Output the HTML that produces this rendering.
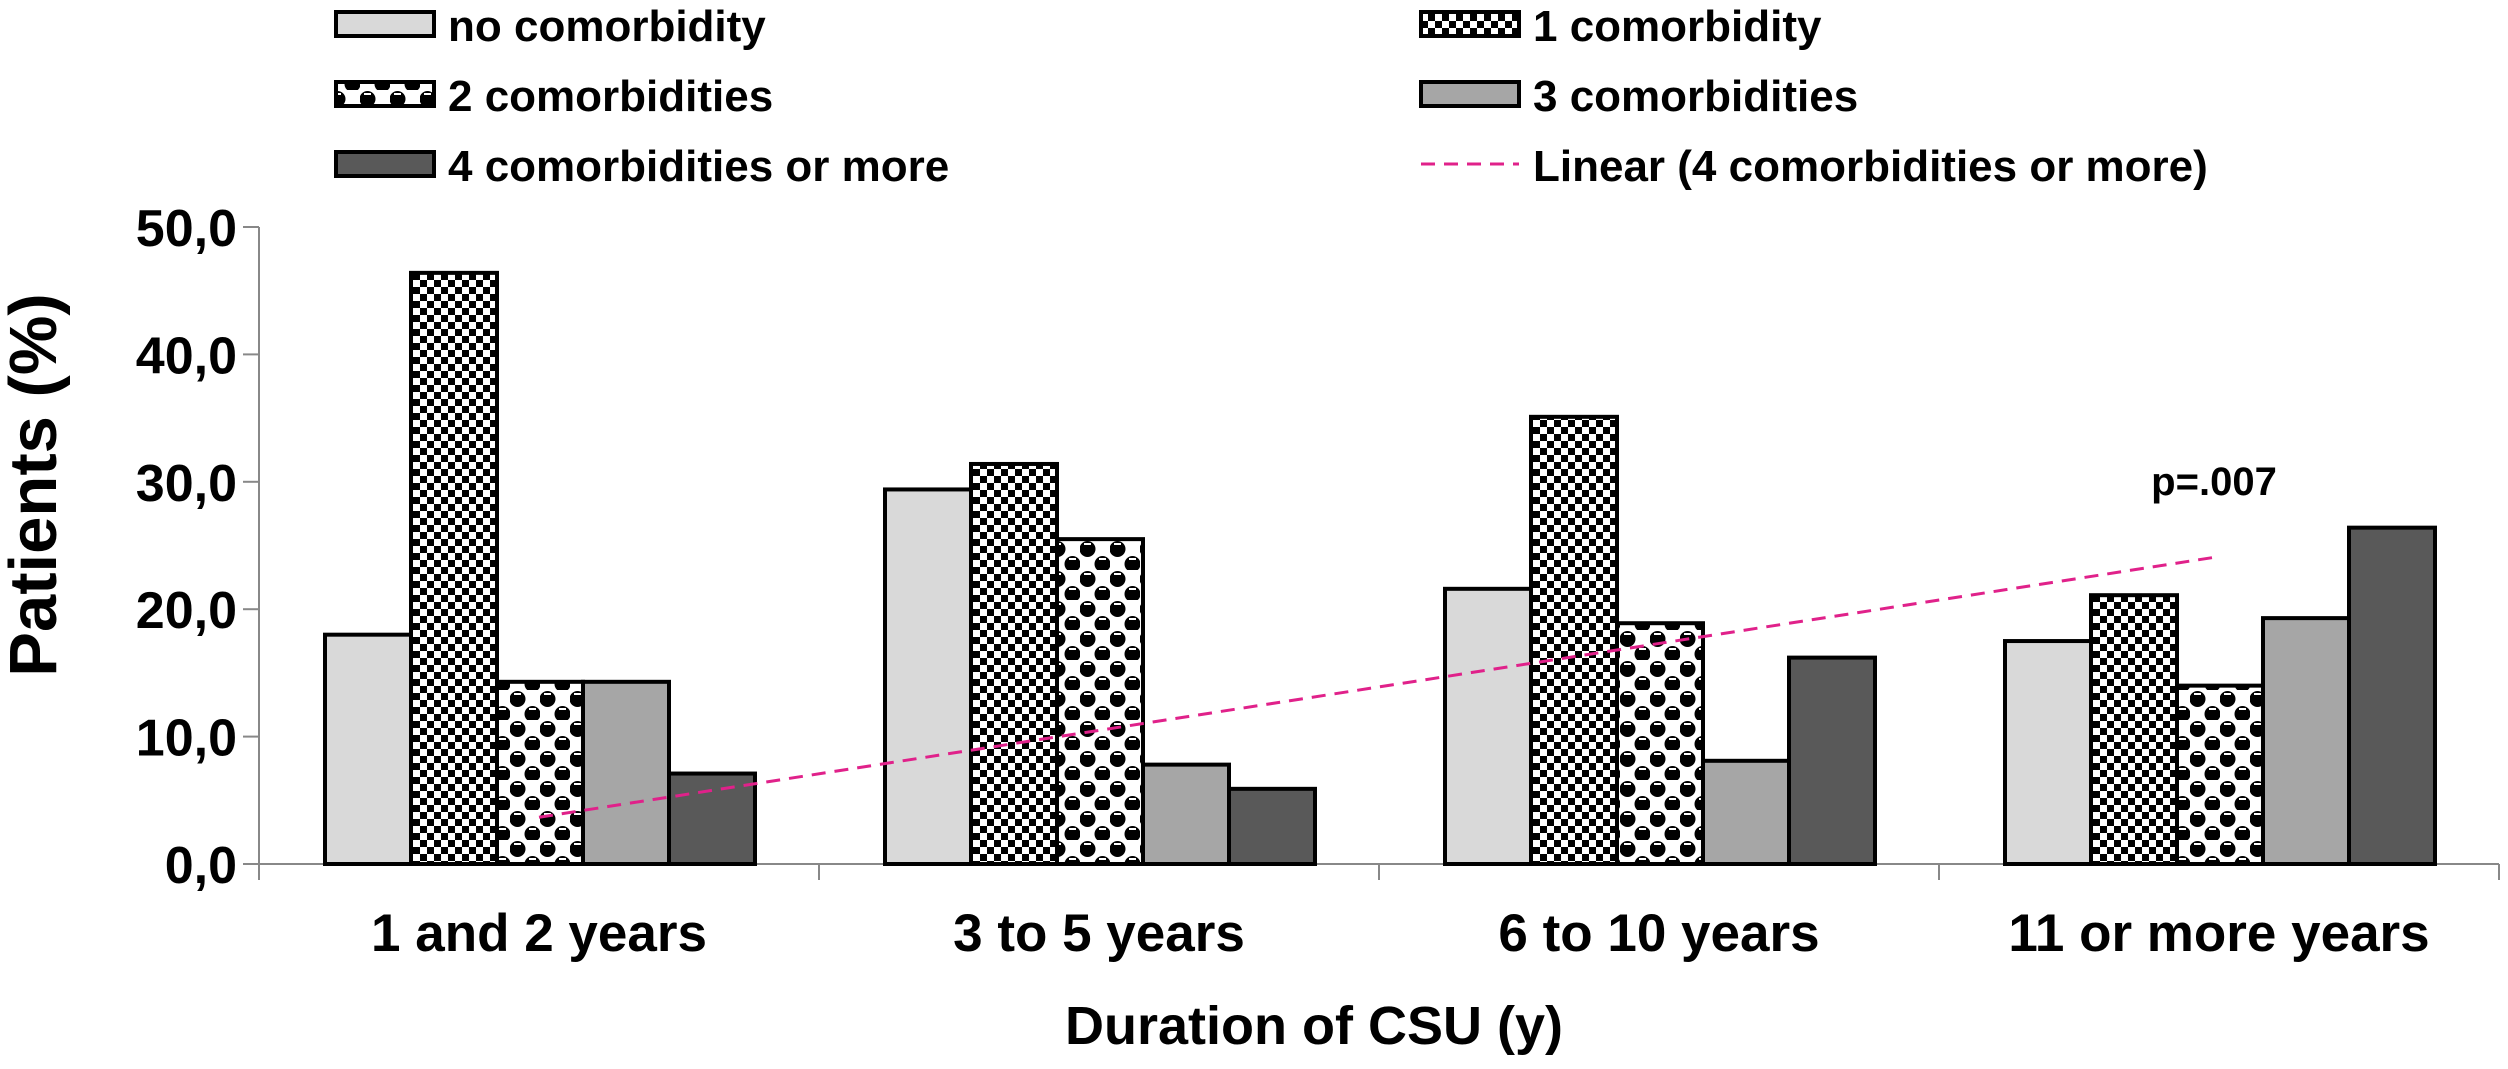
<!DOCTYPE html>
<html><head><meta charset="utf-8"><style>
body{margin:0;background:#fff;}
svg{display:block;font-family:"Liberation Sans",Arial,sans-serif;font-weight:bold;}
</style></head><body>
<svg id="chart" width="2508" height="1069" viewBox="0 0 2508 1069">
<defs>
<pattern id="checker" width="14" height="14" patternUnits="userSpaceOnUse">
<rect width="14" height="14" fill="#fff"/><rect width="7" height="7" fill="#000"/><rect x="7" y="7" width="7" height="7" fill="#000"/>
</pattern>
<pattern id="dots" width="30" height="30" patternUnits="userSpaceOnUse">
<rect width="30" height="30" fill="#fff"/>
<circle cx="7.5" cy="9" r="8" fill="#000"/><circle cx="22.5" cy="24" r="8" fill="#000"/>
<rect x="4" y="3" width="7" height="2" fill="#fff"/><rect x="19" y="18" width="7" height="2" fill="#fff"/>
</pattern>
</defs>
<g id="legend"></g>
<g id="axes"></g>
<g id="bars"></g>
<g id="trend"></g>
<text x="2214" y="495" font-size="40" text-anchor="middle">p=.007</text>
<text x="1314" y="1044" font-size="54" text-anchor="middle">Duration of CSU (y)</text>
<text transform="translate(56,485) rotate(-90)" font-size="67" text-anchor="middle">Patients (%)</text>
</svg>
<script>
const categories = ["1 and 2 years","3 to 5 years","6 to 10 years","11 or more years"];
const seriesNames = ["no comorbidity","1 comorbidity","2 comorbidities","3 comorbidities","4 comorbidities or more"];
const s0 = [18.0, 29.4, 21.6, 17.5];
const s1 = [46.4, 31.4, 35.1, 21.1];
const s2 = [14.3, 25.5, 18.9, 14.0];
const s3 = [14.3, 7.8, 8.1, 19.3];
const s4 = [7.1, 5.9, 16.2, 26.4];
const yTicks = [0,10,20,30,40,50];
const yTickLabels = ["0,0","10,0","20,0","30,0","40,0","50,0"];

const NS="http://www.w3.org/2000/svg";
const fills=["#d9d9d9","url(#checker)","url(#dots)","#a6a6a6","#595959"];
const series=[s0,s1,s2,s3,s4];
const X0=259,X1=2499,Y0=864,Y50=227;
const catW=(X1-X0)/categories.length;
const barW=86, offs=66;
function yS(v){return Y0-(v/50)*(Y0-Y50);}
function xCat(i){return X0+i*catW;}
function mk(tag,attrs,parent){const e=document.createElementNS(NS,tag);for(const k in attrs)e.setAttribute(k,attrs[k]);parent.appendChild(e);return e;}

const axes=document.getElementById('axes');
const yl=mk('line',{x1:X0,y1:Y50,x2:X0,y2:Y0,stroke:'#888','stroke-width':2},axes);


const xl=mk('line',{x1:X0,y1:Y0,x2:X1,y2:Y0,stroke:'#888','stroke-width':2},axes);


yTicks.forEach((t,i)=>{
  const y=yS(t);
  const tk=mk('line',{x1:X0-16,y1:y,x2:X0,y2:y,stroke:'#888','stroke-width':2},axes);
  
  
  const tx=mk('text',{x:X0-22,y:y+19,'font-size':52,'text-anchor':'end'},axes);
  tx.textContent=yTickLabels[i];
  
  
});
for(let i=0;i<=categories.length;i++){
  const x=xCat(i);
  const tk=mk('line',{x1:x,y1:Y0,x2:x,y2:Y0+16,stroke:'#888','stroke-width':2},axes);
  
  
}
categories.forEach((c,i)=>{
  const tx=mk('text',{x:xCat(i)+catW/2,y:951,'font-size':53,'text-anchor':'middle'},axes);
  tx.textContent=c;
  
  
});

const bars=document.getElementById('bars');
categories.forEach((c,i)=>{
  series.forEach((s,j)=>{
    const x=xCat(i)+offs+j*barW, y=yS(s[i]);
    const r=mk('rect',{x:x,y:y,width:barW,height:Y0-y,fill:fills[j],stroke:'#000','stroke-width':4},bars);
    
    
  });
});

const n=s4.length;let mx=0,my=0;for(let i=0;i<n;i++){mx+=i+1;my+=s4[i];}mx/=n;my/=n;
let num=0,den=0;for(let i=0;i<n;i++){num+=(i+1-mx)*(s4[i]-my);den+=(i+1-mx)*(i+1-mx);}
const slope=num/den, icpt=my-slope*mx;
const trend=document.getElementById('trend');
const tl=mk('line',{x1:xCat(0)+catW/2,y1:yS(icpt+slope*1),x2:xCat(3)+catW/2,y2:yS(icpt+slope*4),stroke:'#e0218a','stroke-width':3,'stroke-dasharray':'14,9'},trend);



const legend=document.getElementById('legend');
const legItems=[[0,0,0],[1,1,0],[2,0,1],[3,1,1],[4,0,2]];
legItems.forEach(([j,col,row])=>{
  const x=col?1421:336, y=12+row*70;
  const r=mk('rect',{x:x,y:y,width:98,height:24,fill:fills[j],stroke:'#000','stroke-width':4},legend);
  
  
  const t=mk('text',{x:x+112,y:y+29,'font-size':44},legend);
  t.textContent=seriesNames[j];
  
  
});
const ll=mk('line',{x1:1421,y1:164,x2:1519,y2:164,stroke:'#e0218a','stroke-width':3,'stroke-dasharray':'14,9'},legend);


const lt=mk('text',{x:1533,y:181,'font-size':44},legend);
lt.textContent='Linear (4 comorbidities or more)';


</script>
</body></html>
